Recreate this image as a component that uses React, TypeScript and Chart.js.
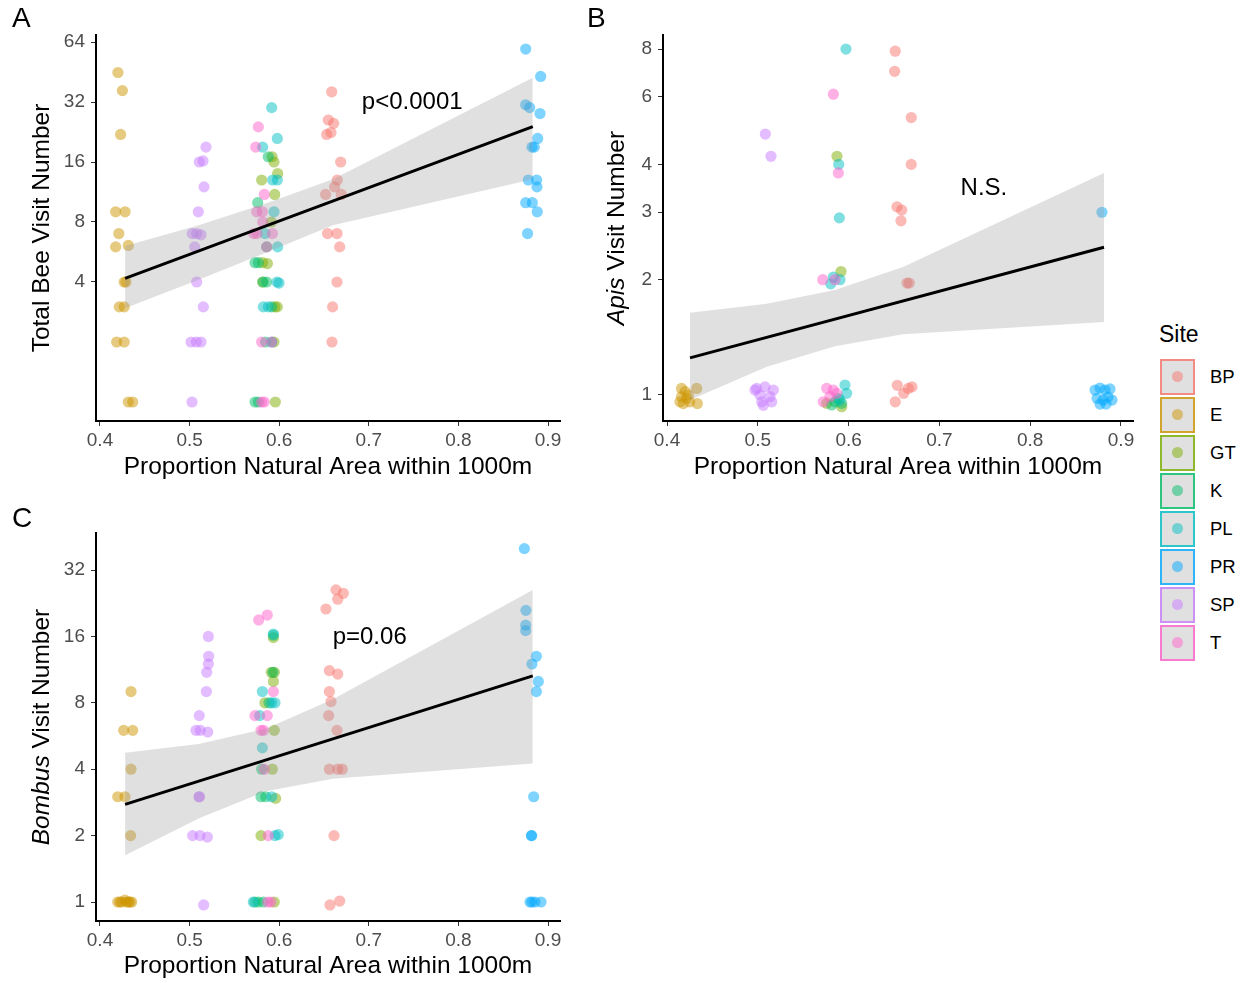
import React, { useEffect, useRef } from 'react';
import { Chart, registerables } from 'chart.js';

Chart.register(...registerables);

const FONT = "'Liberation Sans', Arial, Helvetica, sans-serif";

// ---------- categories & colours ----------
const sites = ['BP', 'E', 'GT', 'K', 'PL', 'PR', 'SP', 'T'];
const siteColors = ['#F8766D', '#CD9600', '#7CAE00', '#00BE67', '#00BFC4', '#00A9FF', '#C77CFF', '#FF61CC'];

// ---------- tick labels ----------
const xTicks = [0.4, 0.5, 0.6, 0.7, 0.8, 0.9];
const totalTicks = [4, 8, 16, 32, 64];
const apisTicks = [1, 2, 3, 4, 6, 8];
const bombusTicks = [1, 2, 4, 8, 16, 32];

// ---------- Panel A: total bee visits [proportion natural area, visits] ----------
const totalBP = [[0.6586, 36], [0.6548, 26], [0.6608, 25], [0.653, 22], [0.6578, 22.5], [0.6686, 16], [0.6648, 13], [0.6618, 12], [0.6518, 11], [0.6693, 11], [0.654, 7], [0.6645, 7], [0.6675, 6], [0.6645, 4], [0.6596, 3], [0.6589, 2]];
const totalE = [[0.42, 45], [0.425, 36.5], [0.423, 22], [0.4175, 9], [0.428, 9], [0.421, 7], [0.4175, 6], [0.4316, 6.1], [0.427, 4], [0.429, 4], [0.4216, 3], [0.427, 3], [0.4186, 2], [0.427, 2], [0.4316, 1], [0.4365, 1]];
const totalGT = [[0.592, 17], [0.5942, 16], [0.5983, 14], [0.5804, 13], [0.595, 11], [0.5912, 8], [0.5815, 5], [0.5868, 4.95], [0.5815, 4], [0.5953, 3], [0.5979, 3], [0.5942, 2], [0.5957, 1]];
const totalK = [[0.5878, 17], [0.576, 10], [0.586, 6], [0.573, 5], [0.5767, 5], [0.582, 4], [0.586, 4], [0.5916, 3], [0.5848, 2], [0.573, 1], [0.5767, 1]];
const totalPL = [[0.5916, 30], [0.5979, 21], [0.5815, 19], [0.5927, 13], [0.5979, 13], [0.5942, 9], [0.5842, 7], [0.5983, 6], [0.5975, 4], [0.5998, 3.95], [0.5823, 3], [0.5879, 3], [0.5916, 2]];
const totalPR = [[0.8751, 59], [0.8918, 43], [0.8751, 31], [0.8796, 30], [0.8911, 28], [0.8885, 21], [0.8821, 19], [0.8847, 19], [0.878, 13], [0.8873, 13], [0.8877, 12], [0.8751, 10], [0.8825, 10], [0.888, 9], [0.8772, 7]];
const totalSP = [[0.5183, 19], [0.5108, 16], [0.515, 16.2], [0.5161, 12], [0.5097, 9], [0.503, 7], [0.508, 7], [0.5127, 6.9], [0.5057, 6], [0.5079, 4], [0.5153, 3], [0.5016, 2], [0.5075, 2], [0.5127, 2], [0.5027, 1]];
const totalT = [[0.5767, 24], [0.5738, 19], [0.5834, 11], [0.5749, 9], [0.5812, 9], [0.5815, 8], [0.5715, 7], [0.5752, 7], [0.5924, 7], [0.586, 6], [0.5804, 2], [0.5916, 2], [0.5804, 1], [0.5834, 1]];
const totalFitX = [0.428, 0.883];
const totalFitY = [4.17, 24.1];
const totalBandX = [0.428, 0.51, 0.585, 0.66, 0.883];
const totalUpper = [6.06, 7.7, 9.9, 13.1, 42.4];
const totalLower = [2.95, 4.1, 5.6, 7.7, 13.1];

// ---------- Panel B: Apis visits ----------
const apisBP = [[0.6514, 7.9], [0.6507, 7], [0.669, 5.3], [0.669, 4], [0.6533, 3.1], [0.6585, 3.04], [0.6577, 2.85], [0.6643, 1.96], [0.6668, 1.96], [0.6536, 1.06], [0.6657, 1.04], [0.6698, 1.05], [0.6607, 1.01], [0.6514, 0.96]];
const apisE = [[0.416, 1.04], [0.42, 1.02], [0.416, 0.99], [0.4216, 0.98], [0.418, 0.95], [0.4327, 1.04], [0.4334, 0.95], [0.425, 0.96], [0.4143, 0.96], [0.4235, 1.0]];
const apisGT = [[0.5872, 4.2], [0.5916, 2.1], [0.5924, 0.932], [0.5759, 0.951]];
const apisK = [[0.585, 0.96], [0.5924, 0.951], [0.5814, 0.942], [0.5887, 0.98]];
const apisPL = [[0.5971, 8], [0.5891, 4], [0.5898, 2.9], [0.5832, 2.03], [0.5803, 1.95], [0.5905, 2.0], [0.596, 1.062], [0.5979, 1.01], [0.5905, 0.97]];
const apisPR = [[0.879, 3.0], [0.8714, 1.03], [0.8769, 1.043], [0.8824, 1.03], [0.8879, 1.037], [0.8736, 0.98], [0.8802, 0.97], [0.8857, 0.988], [0.8901, 0.97], [0.8769, 0.947], [0.8835, 0.947]];
const apisSP = [[0.5083, 4.8], [0.5145, 4.2], [0.4988, 1.04], [0.5079, 1.05], [0.5171, 1.03], [0.5024, 1.0], [0.5134, 0.99], [0.5043, 0.96], [0.5153, 0.96], [0.5061, 0.94], [0.4969, 1.03]];
const apisT = [[0.5832, 6.1], [0.5887, 3.8], [0.5715, 2.0], [0.585, 2.0], [0.5759, 1.041], [0.5832, 1.03], [0.5795, 0.99], [0.5721, 0.96], [0.5869, 1.01]];
const apisFitX = [0.4253, 0.8813];
const apisFitY = [1.25, 2.43];
const apisBandX = [0.4253, 0.51, 0.585, 0.66, 0.8813];
const apisUpper = [1.64, 1.73, 1.88, 2.16, 3.8];
const apisLower = [0.97, 1.185, 1.34, 1.44, 1.55];

// ---------- Panel C: Bombus visits ----------
const bombusBP = [[0.6634, 26], [0.6716, 25.1], [0.6653, 23.6], [0.6522, 21.3], [0.656, 11.2], [0.6653, 10.8], [0.656, 9], [0.6578, 8.1], [0.6552, 7], [0.6645, 6], [0.656, 4], [0.6653, 4], [0.6704, 4], [0.6612, 2], [0.6567, 0.97], [0.6675, 1.01]];
const bombusE = [[0.4346, 9], [0.4264, 6], [0.4365, 6], [0.4346, 4], [0.4198, 3], [0.4279, 3], [0.4342, 2], [0.4198, 1], [0.4242, 1], [0.4279, 1.02], [0.4316, 1], [0.4354, 1], [0.4222, 1], [0.4335, 1], [0.4298, 1]];
const bombusGT = [[0.5935, 15.8], [0.5946, 11], [0.5912, 11], [0.5935, 10], [0.5841, 8], [0.5945, 6], [0.5923, 4], [0.596, 2.95], [0.5797, 2], [0.5945, 1]];
const bombusK = [[0.5935, 16.2], [0.593, 11], [0.5886, 8], [0.5804, 4], [0.5797, 3], [0.585, 3], [0.573, 1], [0.5767, 1], [0.5823, 1]];
const bombusPL = [[0.5935, 16.4], [0.5812, 9], [0.5916, 8], [0.5953, 8], [0.5782, 7], [0.5812, 5], [0.5916, 3], [0.5953, 2], [0.599, 2.02], [0.5711, 1]];
const bombusPR = [[0.8736, 40], [0.8754, 21], [0.8751, 18], [0.8751, 17], [0.887, 13], [0.8821, 12], [0.8892, 10], [0.887, 9], [0.884, 3], [0.8814, 2], [0.8818, 2], [0.8799, 1], [0.8855, 1], [0.8922, 1], [0.882, 1]];
const bombusSP = [[0.5209, 16], [0.5213, 13], [0.5209, 12], [0.5191, 11], [0.5187, 9], [0.5108, 7], [0.5071, 6], [0.5119, 6], [0.5202, 5.9], [0.5105, 3], [0.511, 3], [0.5034, 2], [0.5116, 2], [0.5198, 1.97], [0.5157, 0.97]];
const bombusT = [[0.5867, 20], [0.5771, 19], [0.5935, 9], [0.573, 7], [0.5867, 7], [0.5797, 6], [0.5827, 6], [0.5834, 4], [0.5878, 2], [0.5871, 1], [0.5908, 1]];
const bombusFitX = [0.428, 0.883];
const bombusFitY = [2.77, 10.6];
const bombusBandX = [0.428, 0.51, 0.585, 0.66, 0.883];
const bombusUpper = [4.75, 5.2, 6.1, 8.3, 26];
const bombusLower = [1.63, 2.39, 3.18, 3.62, 4.25];

function rgba(hex: string, a: number) {
  const n = parseInt(hex.slice(1), 16);
  return `rgba(${(n >> 16) & 255},${(n >> 8) & 255},${n & 255},${a})`;
}

const toPts = (arr: number[][]) => arr.map(([x, y]) => ({ x, y }));
const zipPts = (xs: number[], ys: number[]) => xs.map((x, i) => ({ x, y: ys[i] }));

const TITLE_SIZE = 24.5;

function makeTextPlugin(p: any) {
  return {
    id: 'panelText',
    afterDatasetsDraw(chart: any) {
      const ctx = chart.ctx;
      const xs = chart.scales.x;
      const ys = chart.scales.y;
      const area = chart.chartArea;
      ctx.save();
      ctx.fillStyle = '#000';
      ctx.font = `24px ${FONT}`;
      ctx.textAlign = 'center';
      ctx.textBaseline = 'middle';
      ctx.fillText(p.note, xs.getPixelForValue(p.noteX), ys.getPixelForValue(p.noteY));
      ctx.font = `${TITLE_SIZE}px ${FONT}`;
      ctx.fillText(p.xTitle, (area.left + area.right) / 2, p.xTitleY);
      ctx.translate(p.yTitleX, (area.top + area.bottom) / 2);
      ctx.rotate(-Math.PI / 2);
      const fonts = p.yTitle.map((part: any) => `${part.italic ? 'italic ' : ''}${TITLE_SIZE}px ${FONT}`);
      let total = 0;
      p.yTitle.forEach((part: any, i: number) => {
        ctx.font = fonts[i];
        total += ctx.measureText(part.text).width;
      });
      let cx = -total / 2;
      ctx.textAlign = 'left';
      p.yTitle.forEach((part: any, i: number) => {
        ctx.font = fonts[i];
        ctx.fillText(part.text, cx, 0);
        cx += ctx.measureText(part.text).width;
      });
      ctx.restore();
    },
  };
}

function Panel(props: any) {
  const { cfg } = props;
  const ref = useRef<HTMLCanvasElement>(null);
  useEffect(() => {
    const canvas = ref.current;
    if (!canvas) return;
    const pointSets = sites
      .map((s, i) => ({
        label: s,
        data: toPts(cfg.series[i]),
        showLine: false,
        pointRadius: 5.6,
        pointHoverRadius: 5.6,
        pointBorderWidth: 0,
        pointBackgroundColor: rgba(siteColors[i], 0.5),
        backgroundColor: rgba(siteColors[i], 0.5),
        borderColor: 'transparent',
      }))
      .reverse();
    const datasets: any[] = [
      {
        label: 'fit',
        data: zipPts(cfg.fitX, cfg.fitY),
        showLine: true,
        borderColor: '#000',
        borderWidth: 3,
        pointRadius: 0,
        fill: false,
      },
      {
        label: 'upper',
        data: zipPts(cfg.bandX, cfg.upper),
        showLine: true,
        borderWidth: 0,
        borderColor: 'transparent',
        pointRadius: 0,
        fill: '+1',
        backgroundColor: 'rgba(153,153,153,0.3)',
      },
      {
        label: 'lower',
        data: zipPts(cfg.bandX, cfg.lower),
        showLine: true,
        borderWidth: 0,
        borderColor: 'transparent',
        pointRadius: 0,
        fill: false,
      },
      ...pointSets,
    ];
    const tickFont = { size: 19, family: FONT };
    const chart = new Chart(canvas, {
      type: 'scatter',
      data: { datasets },
      options: {
        animation: false,
        responsive: false,
        events: [],
        layout: { padding: { top: cfg.area.top, right: cfg.w - cfg.area.right, left: 0, bottom: 0 } },
        plugins: { legend: { display: false }, tooltip: { enabled: false } },
        scales: {
          x: {
            type: 'linear',
            min: cfg.xMin,
            max: cfg.xMax,
            afterBuildTicks: (s: any) => {
              s.ticks = xTicks.map((v) => ({ value: v }));
            },
            afterFit: (s: any) => {
              s.height = cfg.h - cfg.area.bottom;
            },
            ticks: {
              font: tickFont,
              color: '#4D4D4D',
              padding: 3,
              maxRotation: 0,
              autoSkip: false,
              callback: (v: any) => Number(v).toFixed(1),
            },
            grid: { display: true, drawOnChartArea: false, drawTicks: true, tickLength: 5, color: '#333333', lineWidth: 1 },
            border: { display: true, color: '#000', width: 2 },
          },
          y: {
            type: 'logarithmic',
            min: cfg.yMin,
            max: cfg.yMax,
            afterBuildTicks: (s: any) => {
              s.ticks = cfg.yTicks.map((v: number) => ({ value: v }));
            },
            afterFit: (s: any) => {
              s.width = cfg.area.left;
            },
            ticks: {
              font: tickFont,
              color: '#4D4D4D',
              padding: 6,
              autoSkip: false,
              callback: (v: any) => String(v),
            },
            grid: { display: true, drawOnChartArea: false, drawTicks: true, tickLength: 5, color: '#333333', lineWidth: 1 },
            border: { display: true, color: '#000', width: 2 },
          },
        },
      },
      plugins: [makeTextPlugin(cfg.text)],
    } as any);
    return () => chart.destroy();
  }, [cfg]);
  return (
    <canvas
      ref={ref}
      width={cfg.w}
      height={cfg.h}
      style={{ position: 'absolute', left: cfg.left, top: cfg.top, width: cfg.w, height: cfg.h }}
    />
  );
}

const xTitle = 'Proportion Natural Area within 1000m';

const panelA = {
  left: 0, top: 0, w: 580, h: 490,
  area: { left: 96, right: 560, top: 35, bottom: 421 },
  xMin: 0.39554, xMax: 0.91339, yMin: 0.8028, yMax: 69.4, yTicks: totalTicks,
  series: [totalBP, totalE, totalGT, totalK, totalPL, totalPR, totalSP, totalT],
  fitX: totalFitX, fitY: totalFitY, bandX: totalBandX, upper: totalUpper, lower: totalLower,
  text: { note: 'p<0.0001', noteX: 0.7485, noteY: 32, xTitle, xTitleY: 467, yTitleX: 42, yTitle: [{ text: 'Total Bee Visit Number' }] },
};

const panelB = {
  left: 580, top: 0, w: 560, h: 490,
  area: { left: 83, right: 553, top: 35, bottom: 421 },
  xMin: 0.39559, xMax: 0.91322, yMin: 0.8553, yMax: 8.707, yTicks: apisTicks,
  series: [apisBP, apisE, apisGT, apisK, apisPL, apisPR, apisSP, apisT],
  fitX: apisFitX, fitY: apisFitY, bandX: apisBandX, upper: apisUpper, lower: apisLower,
  text: { note: 'N.S.', noteX: 0.749, noteY: 3.47, xTitle, xTitleY: 467, yTitleX: 37, yTitle: [{ text: 'Apis', italic: true }, { text: ' Visit Number' }] },
};

const panelC = {
  left: 0, top: 490, w: 580, h: 493,
  area: { left: 96, right: 560, top: 43, bottom: 431 },
  xMin: 0.39554, xMax: 0.91339, yMin: 0.8201, yMax: 47.1, yTicks: bombusTicks,
  series: [bombusBP, bombusE, bombusGT, bombusK, bombusPL, bombusPR, bombusSP, bombusT],
  fitX: bombusFitX, fitY: bombusFitY, bandX: bombusBandX, upper: bombusUpper, lower: bombusLower,
  text: { note: 'p=0.06', noteX: 0.701, noteY: 15.9, xTitle, xTitleY: 476, yTitleX: 42, yTitle: [{ text: 'Bombus', italic: true }, { text: ' Visit Number' }] },
};

const letterStyle = (left: number, top: number): React.CSSProperties => ({
  position: 'absolute', left, top, fontFamily: FONT, fontSize: 28, lineHeight: '32px', color: '#000',
});

function Legend() {
  return (
    <div style={{ position: 'absolute', left: 0, top: 0 }}>
      <div style={{ position: 'absolute', left: 1159, top: 334 - 14, fontFamily: FONT, fontSize: 23, lineHeight: '28px', color: '#000', whiteSpace: 'nowrap' }}>Site</div>
      {sites.map((s, i) => {
        const cy = 377 + i * 38;
        return (
          <React.Fragment key={s}>
            <div
              style={{
                position: 'absolute', left: 1160, top: cy - 18, width: 31, height: 32,
                border: `2px solid ${rgba(siteColors[i], 0.8)}`, background: '#E0E0E0',
              }}
            >
              <div style={{ position: 'absolute', left: 10, top: 10, width: 11, height: 11, borderRadius: '50%', background: rgba(siteColors[i], 0.5) }} />
            </div>
            <div style={{ position: 'absolute', left: 1210, top: cy - 11, fontFamily: FONT, fontSize: 18.5, lineHeight: '22px', color: '#000', whiteSpace: 'nowrap' }}>{s}</div>
          </React.Fragment>
        );
      })}
    </div>
  );
}

export default function App() {
  return (
    <div style={{ position: 'absolute', left: 0, top: 0, width: 1244, height: 983, background: '#fff', overflow: 'hidden' }}>
      <Panel cfg={panelA} />
      <Panel cfg={panelB} />
      <Panel cfg={panelC} />
      <div style={letterStyle(12, 2)}>A</div>
      <div style={letterStyle(587, 2)}>B</div>
      <div style={letterStyle(12, 502)}>C</div>
      <Legend />
    </div>
  );
}
